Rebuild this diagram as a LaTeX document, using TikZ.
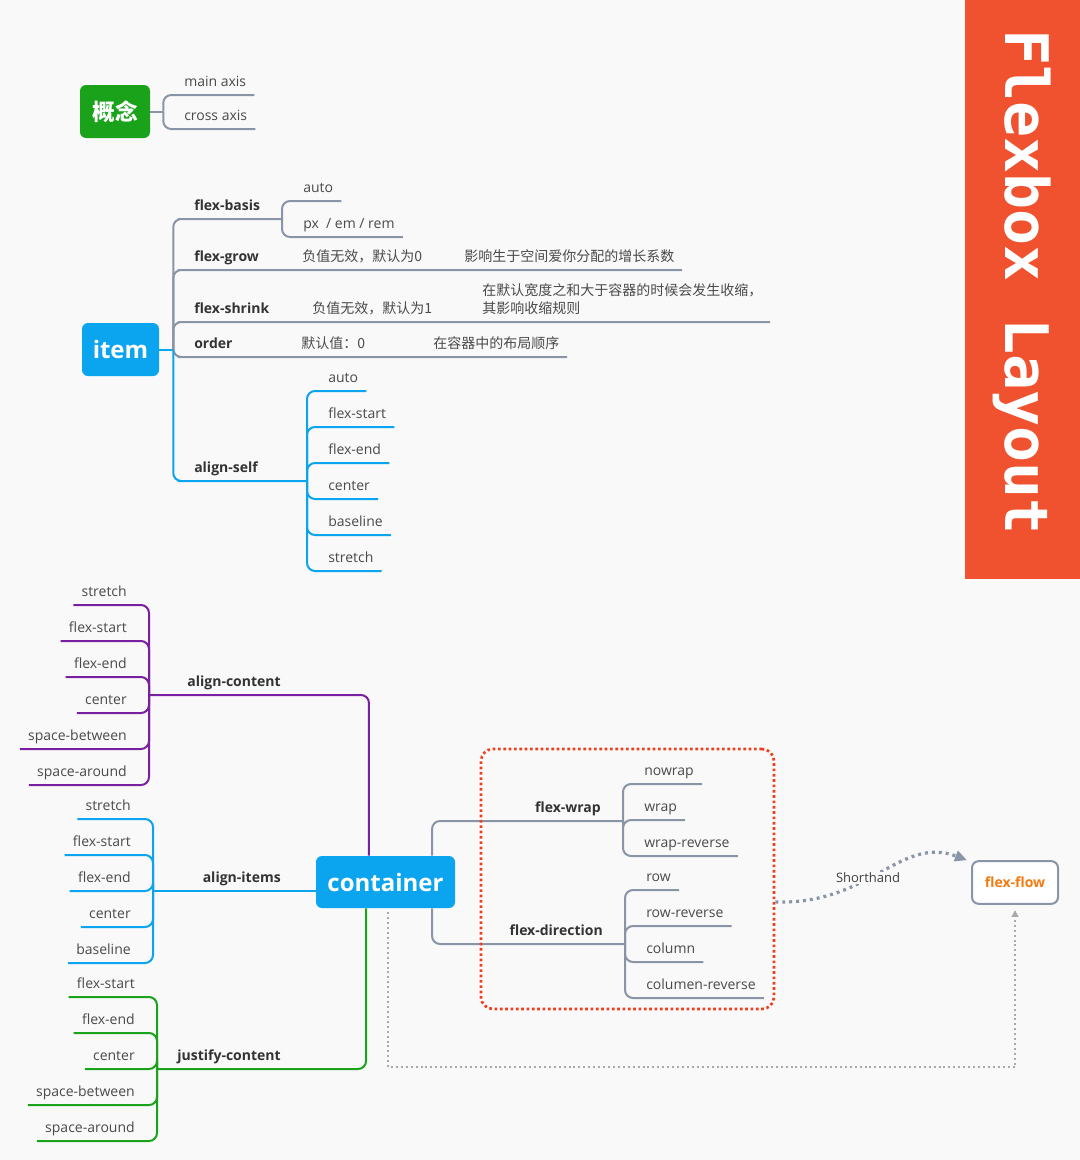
\documentclass[tikz,border=0pt]{standalone}
\usepackage{fontspec}
\setmainfont{Open Sans}
\newfontfamily\cjk{Noto Sans CJK SC}
\newfontfamily\monofont{DejaVu Sans Mono}
\usetikzlibrary{arrows.meta}
\definecolor{bgc}{HTML}{F9F9F9}
\definecolor{slate}{HTML}{8A94A7}
\definecolor{grape}{HTML}{7B1FA2}
\definecolor{sky}{HTML}{0BA4EE}
\definecolor{grass}{HTML}{1AA31A}
\definecolor{tomato}{HTML}{F0522F}
\definecolor{redot}{HTML}{F23F1B}
\definecolor{ink}{HTML}{4A4A4A}
\definecolor{flow}{HTML}{F57A10}
\definecolor{dotgray}{HTML}{A9A9A9}

\begin{document}
\begin{tikzpicture}[x=0.75pt, y=-0.75pt,
    every node/.style={text=ink, font=\fontsize{10.5}{12}\selectfont},
    twig/.style={inner xsep=6pt, inner ysep=6pt, text height=7.5pt, text depth=0pt},
    twigr/.style={twig, anchor=south west},
    twigl/.style={twig, anchor=south east},
    bough/.style={twig, text=black!80, font=\fontsize{10.5}{12}\selectfont\bfseries},
    remark/.style={twigr, font=\cjk\fontsize{10.5}{12}\selectfont},
    root/.style={rounded corners=4.5pt, text=white, font=\fontsize{18}{20}\selectfont\bfseries},
    wire/.style={line width=1.5pt, rounded corners=6pt}]
        \fill[bgc] (0, 0) rectangle (1080, 1160);
        \useasboundingbox (0, 0) rectangle (1080, 1160);

        \fill[tomato] (965, 0) rectangle (1080, 579);
        \node[rotate=-90, anchor=base, text=white, font=\monofont\bfseries\fontsize{45}{50}\selectfont] (title) at (1005, 282) {Flexbox Layout};

        \node[root, fill=grass, minimum width=52.5pt, minimum height=39.75pt, font=\cjk\bfseries\fontsize{17}{20}\selectfont] (concept) at (115, 111.5) {概念};
        \coordinate (cb) at ([xshift=9.75pt]concept.east);
        \draw[wire, slate] (concept.east) -- (cb);
        \node[twigr] (ca0) at (176, 95) {main axis};
        \node[twigr] (ca1) at (176, 129) {cross axis};
        \draw[wire, slate] (cb) |- (ca0.south east);
        \draw[wire, slate] (cb) |- (ca1.south east);

        \node[root, fill=sky, minimum width=57.75pt, minimum height=39.75pt] (item) at (120.5, 349.5) {item};
        \coordinate (ij) at ([xshift=10.5pt]item.east);
        \draw[wire, sky] (item.east) -- (ij);
        \node[bough, anchor=south west] (basis) at (186, 219) {flex-basis};
        \node[bough, anchor=south west] (grow) at (186, 270) {flex-grow};
        \node[bough, anchor=south west] (shrink) at (186, 322) {flex-shrink};
        \node[bough, anchor=south west] (order) at (186, 357) {order};
        \node[bough, anchor=south west] (aself) at (186, 481) {align-self};
        \coordinate (bb) at (282, 219);
        \coordinate (ge) at (682, 270);
        \coordinate (se) at (770, 322);
        \coordinate (oe) at (567, 357);
        \coordinate (asb) at (307, 481);
        \draw[wire, slate] (ij) |- (basis.south west) -- (bb);
        \draw[wire, slate] (ij) |- (grow.south west) -- (ge);
        \draw[wire, slate] (ij) |- (shrink.south west) -- (se);
        \draw[wire, slate] (ij) |- (order.south west) -- (oe);
        \draw[wire, sky] (ij) |- (aself.south west) -- (asb);

        \node[twigr] (fb0) at (295, 201) {auto};
        \node[twigr] (fb1) at (295, 237) {px~ / em / rem};
        \draw[wire, slate] (bb) |- (fb0.south east);
        \draw[wire, slate] (bb) |- (fb1.south east);

        \node[remark] (g0) at (294, 270) {负值无效，默认为0};
        \node[remark] (g1) at (456, 270) {影响生于空间爱你分配的增长系数};
        \node[remark] (s0) at (304, 322) {负值无效，默认为1};
        \node[remark] (s1) at (474, 304) {在默认宽度之和大于容器的时候会发生收缩，};
        \node[remark] (s2) at (474, 322) {其影响收缩规则};
        \node[remark] (o0) at (293, 357) {默认值：0};
        \node[remark] (o1) at (425, 357) {在容器中的布局顺序};

        \foreach \lbl [count=\i from 0] in {auto, flex-start, flex-end, center, baseline, stretch}
            \node[twigr] (as\i) at (320, 391+36*\i) {\lbl};
        \foreach \i in {0,...,5}
            \draw[wire, sky] (asb) |- (as\i.south east);

        \node[root, fill=sky, minimum width=104.25pt, minimum height=39pt] (container) at (385.5, 882) {container};

        \node[bough, anchor=south east] (acon) at (289, 695) {align-content};
        \coordinate (acb) at (149, 695);
        \draw[wire, grape] ([xshift=-12.4pt]container.north) |- (acon.south east) -- (acb);
        \foreach \lbl [count=\i from 0] in {stretch, flex-start, flex-end, center, space-between, space-around}
            \node[twigl] (ac\i) at (135, 605+36*\i) {\lbl};
        \foreach \i in {0,...,5}
            \draw[wire, grape] (acb) |- (ac\i.south west);

        \node[bough, anchor=south east] (aitm) at (289, 891) {align-items};
        \coordinate (aib) at (153, 891);
        \draw[wire, sky] ([yshift=-6.75pt]container.west) -- (aitm.south east) -- (aib);
        \foreach \lbl [count=\i from 0] in {stretch, flex-start, flex-end, center, baseline}
            \node[twigl] (ai\i) at (139, 819+36*\i) {\lbl};
        \foreach \i in {0,...,4}
            \draw[wire, sky] (aib) |- (ai\i.south west);

        \node[bough, anchor=south east] (jcon) at (289, 1069) {justify-content};
        \coordinate (jcb) at (157, 1069);
        \draw[wire, grass] ([xshift=-14.6pt]container.south) |- (jcon.south east) -- (jcb);
        \foreach \lbl [count=\i from 0] in {flex-start, flex-end, center, space-between, space-around}
            \node[twigl] (jc\i) at (143, 997+36*\i) {\lbl};
        \foreach \i in {0,...,4}
            \draw[wire, grass] (jcb) |- (jc\i.south west);

        \node[bough, anchor=south east] (fwrap) at (609, 821) {flex-wrap};
        \coordinate (fwb) at (623, 821);
        \draw[wire, slate] ([xshift=34.9pt]container.north) |- (fwrap.south west) -- (fwb);
        \foreach \lbl [count=\i from 0] in {nowrap, wrap, wrap-reverse}
            \node[twigr] (fw\i) at (636, 784+36*\i) {\lbl};
        \foreach \i in {0,...,2}
            \draw[wire, slate] (fwb) |- (fw\i.south east);

        \node[bough, anchor=south east] (fdir) at (611, 944) {flex-direction};
        \coordinate (fdb) at (625, 944);
        \draw[wire, slate] ([xshift=34.9pt]container.south) |- (fdir.south west) -- (fdb);
        \foreach \lbl [count=\i from 0] in {row, row-reverse, column, columen-reverse}
            \node[twigr] (fd\i) at (638, 890+36*\i) {\lbl};
        \foreach \i in {0,...,3}
            \draw[wire, slate] (fdb) |- (fd\i.south east);

        \node[draw=redot, line width=2pt, dash pattern=on 2pt off 2pt, rounded corners=9pt, minimum width=219.75pt, minimum height=195pt] (fbox) at (627.5, 879) {};

        \node[draw=slate, line width=1.5pt, fill=white, rounded corners=5pt, minimum width=64.5pt, minimum height=32pt, text=flow, font=\fontsize{10.5}{12}\selectfont\bfseries] (fflow) at (1015, 882.5) {flex-flow};

        \draw[slate, line width=2.4pt, dash pattern=on 2.2pt off 3pt, -{Triangle[length=9pt, width=8pt]}] ([yshift=-17.25pt]fbox.east) .. controls (870, 905) and (900, 835) .. ([xshift=-3pt]fflow.north west);
        \node[fill=bgc, inner sep=1pt, text=black!75, font=\fontsize{9.75}{11}\selectfont] (short) at (868, 878) {Shorthand};

        \draw[dotgray, line width=1.4pt, dash pattern=on 1.5pt off 2.2pt, -{Triangle[length=5pt, width=5pt]}] ([xshift=1.9pt, yshift=-3pt]container.south) -- ++(0, 155) -| ([yshift=-4pt]fflow.south);
\end{tikzpicture}
\end{document}
